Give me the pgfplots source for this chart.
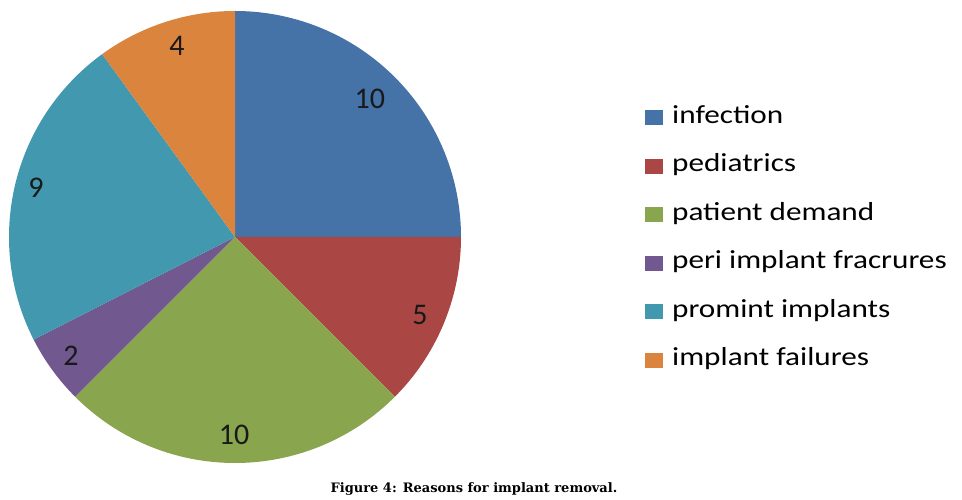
\documentclass[border=0pt]{standalone}
\usepackage{pgfplots}
\pgfplotsset{compat=1.18}
\usepackage{fontspec}
\setmainfont{Carlito}
\newfontfamily\legfont[FakeStretch=1.2]{Carlito}
\newfontfamily\capfont{DejaVu Serif}
\definecolor{cInf}{HTML}{4572A7}
\definecolor{cPed}{HTML}{AA4643}
\definecolor{cPat}{HTML}{89A54E}
\definecolor{cPer}{HTML}{71588F}
\definecolor{cPro}{HTML}{4198AF}
\definecolor{cFai}{HTML}{DB843D}
% values: infection 10, pediatrics 5, patient demand 10,
% peri implant fracrures 2, promint implants 9, implant failures 4 (total 40 -> 9 deg each)
\begin{document}
\begin{tikzpicture}
\useasboundingbox (0,0) rectangle (962pt,500pt);
\begin{axis}[
  at={(9pt,37pt)}, anchor=south west,
  scale only axis, width=452pt, height=452pt,
  xmin=-1, xmax=1, ymin=-1, ymax=1,
  hide axis, clip=false,
  legend cell align=left,
  legend image code/.code={\fill[#1] (0pt,-8pt) rectangle (18pt,7pt);},
  legend style={at={(1.407,0.794)}, anchor=north west, draw=none, fill=none,
    inner sep=0pt, row sep=22.5pt,
    nodes={inner sep=0pt, font=\legfont\fontsize{26}{30}\selectfont},
    /tikz/every odd column/.style={column sep=9pt},
    /tikz/every even column/.style={nodes={text height=19pt, text depth=7pt}}},
]
% infection: 10
\addplot[fill=cInf, draw=none, domain=0:90, samples=91] ({cos(x)},{sin(x)}) -- (axis cs:0,0) -- cycle;
\addlegendentry{infection}
% pediatrics: 5
\addplot[fill=cPed, draw=none, domain=-45:0, samples=46] ({cos(x)},{sin(x)}) -- (axis cs:0,0) -- cycle;
\addlegendentry{pediatrics}
% patient demand: 10
\addplot[fill=cPat, draw=none, domain=-135:-45, samples=91] ({cos(x)},{sin(x)}) -- (axis cs:0,0) -- cycle;
\addlegendentry{patient demand}
% peri implant fracrures: 2
\addplot[fill=cPer, draw=none, domain=-153:-135, samples=19] ({cos(x)},{sin(x)}) -- (axis cs:0,0) -- cycle;
\addlegendentry{peri implant fracrures}
% promint implants: 9
\addplot[fill=cPro, draw=none, domain=-234:-153, samples=82] ({cos(x)},{sin(x)}) -- (axis cs:0,0) -- cycle;
\addlegendentry{promint implants}
% implant failures: 4
\addplot[fill=cFai, draw=none, domain=-270:-234, samples=37] ({cos(x)},{sin(x)}) -- (axis cs:0,0) -- cycle;
\addlegendentry{implant failures}

\begin{scope}[every node/.style={font=\fontsize{30}{30}\selectfont, text=black!90}]
\node at (axis cs:0.597,0.611) {10};
\node at (axis cs:0.819,-0.345) {5};
\node at (axis cs:-0.004,-0.876) {10};
\node at (axis cs:-0.726,-0.527) {2};
\node at (axis cs:-0.881,0.217) {9};
\node at (axis cs:-0.257,0.845) {4};
\end{scope}
\end{axis}
\node at (474pt,11pt) {\capfont\bfseries\fontsize{13}{15}\selectfont Figure 4: Reasons for implant removal.};
\end{tikzpicture}
\end{document}
